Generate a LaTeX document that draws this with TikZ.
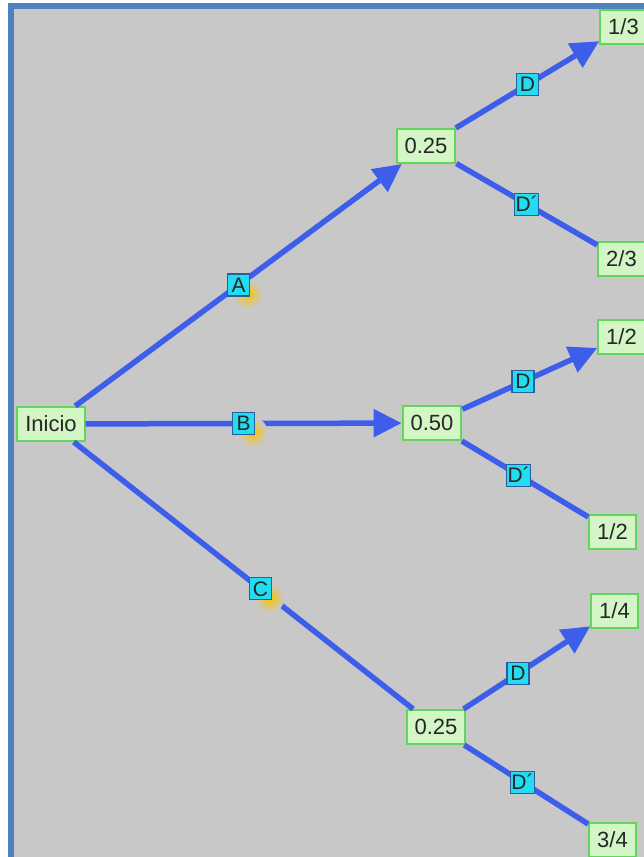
\documentclass[tikz,border=0pt]{standalone}
\usepackage{fontspec}
\setmainfont{Liberation Sans}
\usetikzlibrary{arrows.meta,calc}
\definecolor{bgray}{HTML}{C8C8C8}
\definecolor{frameblue}{HTML}{4F81BD}
\definecolor{edgeblue}{HTML}{3D5EEA}
\definecolor{nodefill}{HTML}{D4F6C6}
\definecolor{nodeline}{HTML}{62D65A}
\definecolor{tagfill}{HTML}{22DDF2}
\definecolor{tagline}{HTML}{2A5F9E}
\definecolor{glow}{HTML}{F5C414}
\begin{document}
\begin{tikzpicture}[x=1pt,y=-1pt,
  prob/.style={draw=nodeline, fill=nodefill, line width=2pt, inner xsep=8pt,
    minimum height=34pt, font=\fontsize{22}{24}\selectfont, text=black!85},
  tag/.style={draw=tagline, fill=tagfill, line width=1.2pt, inner sep=1pt,
    minimum width=22pt, minimum height=22pt, font=\fontsize{21}{22}\selectfont, text=black!85},
  branch/.style={draw=edgeblue, line width=5.5pt},
  arr/.style={branch, -{Triangle[length=28pt,width=27pt]}},
]
\useasboundingbox (0,0) rectangle (644,857);
\clip (0,0) rectangle (644,857);
% panel
\draw[frameblue, line width=6pt, fill=bgray] (11,5.5) rectangle (670,890);

% probability nodes
\node[prob] (ini) at (51,424) {Inicio};
\node[prob] (pA) at (426,146) {0.25};
\node[prob] (pB) at (432,423) {0.50};
\node[prob] (pC) at (436,727) {0.25};
\node[prob] (a1) at (623.5,26.5) {1/3};
\node[prob] (a2) at (621.5,259) {2/3};
\node[prob] (b1) at (621.5,337) {1/2};
\node[prob] (b2) at (612.5,531.5) {1/2};
\node[prob] (c1) at (614.5,610.5) {1/4};
\node[prob] (c2) at (612.5,839.5) {3/4};

% branches
\draw[arr] (ini) -- (pA);
\draw[arr] (ini) -- (pB);
\draw[branch] (ini) -- (pC);
\draw[arr] (pA) -- (a1);
\draw[branch] (pA) -- (a2);
\draw[arr] (pB) -- (b1);
\draw[branch] (pB) -- (b2);
\draw[arr] (pC) -- (c1);
\draw[branch] (pC) -- (c2);

% label anchors along the branches
\path (ini) -- (pA) coordinate[pos=0.5] (mA);
\path (ini) -- (pB) coordinate[pos=0.5] (mB);
\path (ini) -- (pC) coordinate[pos=0.55] (mC);
\path (pA) -- (a1) coordinate[pos=0.5] (mA1);
\path (pA) -- (a2) coordinate[pos=0.5] (mA2);
\path (pB) -- (b1) coordinate[pos=0.45] (mB1);
\path (pB) -- (b2) coordinate[pos=0.45] (mB2);
\path (pC) -- (c1) coordinate[pos=0.43] (mC1);
\path (pC) -- (c2) coordinate[pos=0.47] (mC2);

% yellow glows behind the first-level tags
\foreach \m in {mA,mB,mC}{
  \shade[inner color=glow, outer color=bgray] ($(\m)+(9,9)$) circle (15pt);
  \fill[glow, opacity=0.85] ($(\m)+(9,9)$) circle (5.5pt);
}

% branch tags
\node[tag] (tA) at (mA) {A};
\node[tag] (tB) at (mB) {B};
\node[tag] (tC) at (mC) {C};
\node[tag] (tA1) at (mA1) {D};
\node[tag] (tA2) at (mA2) {D´};
\node[tag] (tB1) at (mB1) {D};
\node[tag] (tB2) at (mB2) {D´};
\node[tag] (tC1) at (mC1) {D};
\node[tag] (tC2) at (mC2) {D´};
\end{tikzpicture}
\end{document}
